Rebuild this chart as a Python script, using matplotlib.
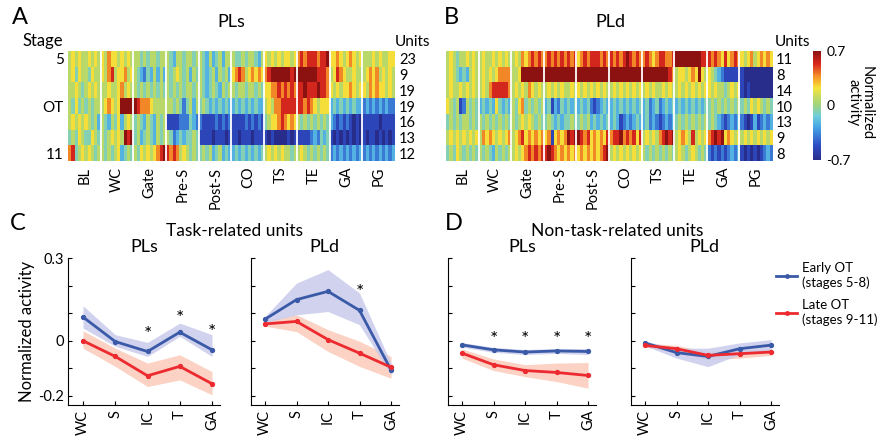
import numpy as np
import matplotlib
matplotlib.use("Agg")
import matplotlib.pyplot as plt
from matplotlib.lines import Line2D
from matplotlib.colors import LinearSegmentedColormap

plt.rcParams['font.family'] = ['Lato', 'DejaVu Sans']

# ---------------- Heatmap data (coded levels 0..9 -> -0.7..0.7) ----------------
epochs = ["BL", "WC", "Gate", "Pre-S", "Post-S", "CO", "TS", "TE", "GA", "PG"]
stage_labels = ["5", "", "", "OT", "", "", "11"]
units_pls = [23, 9, 19, 19, 16, 13, 12]
units_pld = [11, 8, 14, 10, 13, 9, 8]

pls_rows = [
    "5656556565 6576656565 5545455455 5435545545 5435345355 5445455435 6565656656 7878887889 6676567656 5556565566",
    "5646554655 6578566756 5432435353 5456545354 5434535453 6787567676 7899999989 9999998887 5687655655 5676756565",
    "5565456565 5565567565 5454545454 5454545545 5434543545 5455455454 6677878787 8898889887 6565667656 6576766565",
    "5464545455 5676569999 9877765555 5545424535 4543434343 3434343433 5657788888 8878765666 3434343433 2323232322",
    "5656565453 5435463565 4543543545 1111222432 2111121212 1111212121 4566787676 5454545454 3212121010 1111101111",
    "4546544654 5456565989 4534543545 5423434454 1111011101 1101110111 1010000101 1111232434 1010101010 1011010101",
    "7845656545 5454563454 5465656789 8787565454 4545345343 3434343434 5656565545 5654545454 2323232323 2323232323",
]
pld_rows = [
    "5654556565 5655656565 5657678787 7878787878 6787888787 8787898787 7876788778 9999999988 8787686787 6567567676",
    "5654343565 5656567777 5569999999 9999999999 9999999999 9999999999 9999999987 5665676965 6543211111 1000000000",
    "5655656565 5657888887 5656576565 5656565565 6565656565 5656565656 5656556565 5656565656 6565545656 1010000000",
    "6545125454 3434364343 5467454545 3413243434 3434212343 3434343434 3423423434 3434343434 4545454545 4546565454",
    "4545455454 5454545454 5456565454 4543434454 4545343434 3431232343 3423212323 4545454545 4543212323 2101312323",
    "5656565656 5767656567 5678676767 6716767989 9878676768 7889787868 5656578989 5676585656 7898967656 5656565656",
    "4546545454 5454354545 5656787878 8987676767 6767676789 5656565656 5454545454 5654565454 2121212323 1010101232",
]
levels = np.linspace(-0.7, 0.7, 10)

def decode(rows):
    return np.array([[levels[int(c)] for c in r.replace(" ", "")] for r in rows])

# ---------------- Line-plot data ----------------
xcats = ["WC", "S", "IC", "T", "GA"]
# Task-related, PLs
c_pls_early = [0.086, -0.003, -0.039, 0.031, -0.033]
c_pls_early_lo = [0.046, -0.020, -0.057, 0.016, -0.057]
c_pls_early_hi = [0.127, 0.022, -0.006, 0.064, 0.022]
c_pls_late = [0.000, -0.057, -0.127, -0.093, -0.156]
c_pls_late_lo = [-0.027, -0.093, -0.166, -0.142, -0.196]
c_pls_late_hi = [0.036, -0.027, -0.081, -0.051, -0.112]
c_pls_stars = [None, None, 0.022, 0.082, 0.031]
# Task-related, PLd
c_pld_early = [0.078, 0.149, 0.179, 0.110, -0.106]
c_pld_early_lo = [0.066, 0.094, 0.106, 0.058, -0.124]
c_pld_early_hi = [0.088, 0.209, 0.258, 0.173, -0.081]
c_pld_late = [0.061, 0.070, 0.004, -0.045, -0.096]
c_pld_late_lo = [0.053, 0.033, -0.039, -0.093, -0.136]
c_pld_late_hi = [0.075, 0.094, 0.040, -0.002, -0.057]
c_pld_stars = [None, None, None, 0.175, None]
# Non-task-related, PLs
d_pls_early = [-0.015, -0.033, -0.041, -0.037, -0.039]
d_pls_early_lo = [-0.023, -0.042, -0.050, -0.046, -0.050]
d_pls_early_hi = [-0.007, -0.024, -0.032, -0.028, -0.028]
d_pls_late = [-0.045, -0.087, -0.108, -0.115, -0.126]
d_pls_late_lo = [-0.063, -0.108, -0.130, -0.148, -0.172]
d_pls_late_hi = [-0.030, -0.066, -0.087, -0.081, -0.079]
d_pls_stars = [None, 0.004, 0.004, 0.006, 0.004]
# Non-task-related, PLd
d_pld_early = [-0.008, -0.043, -0.057, -0.029, -0.016]
d_pld_early_lo = [-0.018, -0.063, -0.094, -0.050, -0.039]
d_pld_early_hi = [-0.002, -0.027, -0.027, -0.008, 0.004]
d_pld_late = [-0.017, -0.029, -0.053, -0.047, -0.041]
d_pld_late_lo = [-0.023, -0.045, -0.069, -0.063, -0.053]
d_pld_late_hi = [-0.008, -0.017, -0.039, -0.033, -0.029]
d_pld_stars = [None, None, None, None, None]

BLUE = "#3a5aa8"
BLUE_BAND = "#c9cbec"
RED = "#ec2a2f"
RED_BAND = "#fbd2c3"

# muted jet-like colormap resembling the printed figure
cmap = LinearSegmentedColormap.from_list("mjet", [
    (0.00, (40/255, 45/255, 140/255)),
    (0.13, (45/255, 75/255, 195/255)),
    (0.30, (70/255, 165/255, 230/255)),
    (0.40, (110/255, 205/255, 220/255)),
    (0.50, (160/255, 212/255, 130/255)),
    (0.57, (190/255, 218/255, 100/255)),
    (0.66, (247/255, 228/255, 60/255)),
    (0.77, (245/255, 145/255, 40/255)),
    (0.88, (218/255, 40/255, 30/255)),
    (1.00, (140/255, 18/255, 18/255)),
])

W, H = 877, 437
fig = plt.figure(figsize=(W / 100, H / 100), dpi=100)

def ax_px(x0, y0, x1, y1):
    return fig.add_axes([x0 / W, 1 - y1 / H, (x1 - x0) / W, (y1 - y0) / H])

def heat(x0, x1, rows, units, left_labels):
    ax = ax_px(x0, 51, x1, 161)
    data = decode(rows)
    im = ax.imshow(data, cmap=cmap, vmin=-0.7, vmax=0.7, aspect="auto",
                   interpolation="nearest", extent=(0, 100, 7, 0))
    for b in range(10, 100, 10):
        ax.axvline(b, color="white", lw=1.3)
    ax.set_xlim(0, 100)
    ax.set_ylim(7, 0)
    ax.set_xticks(np.arange(5, 100, 10))
    ax.set_xticklabels(epochs, rotation=90, fontsize=10.5)
    ax.tick_params(axis="x", length=0, pad=4)
    ax.set_yticks(np.arange(7) + 0.5)
    if left_labels:
        ax.set_yticklabels(stage_labels, fontsize=11)
    else:
        ax.set_yticklabels([])
    ax.tick_params(axis="y", length=0, pad=3)
    for s in ax.spines.values():
        s.set_visible(False)
    axr = ax.twinx()
    axr.set_ylim(7, 0)
    axr.set_yticks(np.arange(7) + 0.5)
    axr.set_yticklabels([str(u) for u in units], fontsize=10.5)
    axr.tick_params(axis="y", length=0, pad=3)
    for s in axr.spines.values():
        s.set_visible(False)
    return ax, im

axA, im = heat(68, 395, pls_rows, units_pls, True)
axB, _ = heat(446, 772, pld_rows, units_pld, False)

# colorbar
cax = ax_px(813, 51, 821, 160)
cb = fig.colorbar(im, cax=cax, ticks=[-0.7, 0, 0.7])
cb.ax.set_yticklabels(["-0.7", "0", "0.7"], fontsize=10)
cb.ax.tick_params(length=0, pad=4)
cb.outline.set_visible(False)
fig.text(860 / W, 1 - 103 / H, "Normalized\nactivity", rotation=-90, ha="center",
         va="center", fontsize=10.5, linespacing=0.95)

# heatmap headers
fig.text(12 / W, 1 - 18 / H, "A", fontsize=17, va="center", ha="left")
fig.text(444 / W, 1 - 18 / H, "B", fontsize=17, va="center", ha="left")
fig.text(231 / W, 1 - 22 / H, "PLs", fontsize=13, va="center", ha="center")
fig.text(610 / W, 1 - 22 / H, "PLd", fontsize=13, va="center", ha="center")
fig.text(43 / W, 1 - 41 / H, "Stage", fontsize=12, va="center", ha="center")
fig.text(413 / W, 1 - 42 / H, "Units", fontsize=11, va="center", ha="center")
fig.text(793 / W, 1 - 42 / H, "Units", fontsize=11, va="center", ha="center")

# ---------------- Line panels ----------------
XL = (-0.45, 4.25)
YL = (-0.233, 0.3)

def line_panel(x_wc, x_ga, series, stars, title, ylabels):
    u = (x_ga - x_wc) / 4
    x0 = x_wc + XL[0] * u
    x1 = x_wc + XL[1] * u
    ax = ax_px(x0, 258, x1, 405)
    xs = np.arange(5)
    (e, elo, ehi, l, llo, lhi) = series
    ax.fill_between(xs, llo, lhi, color=RED_BAND, lw=0, zorder=1)
    ax.fill_between(xs, elo, ehi, color=BLUE_BAND, lw=0, zorder=1, alpha=0.85)
    ax.plot(xs, e, color=BLUE, lw=2, marker="o", ms=2.8, zorder=3)
    ax.plot(xs, l, color=RED, lw=2, marker="o", ms=2.8, zorder=3)
    for xi, sv in zip(xs, stars):
        if sv is not None:
            ax.text(xi, sv, "*", ha="center", va="center", fontsize=14)
    ax.set_xlim(*XL)
    ax.set_ylim(*YL)
    ax.set_xticks(xs)
    ax.set_xticklabels(xcats, rotation=90, fontsize=10.5)
    ax.set_yticks([-0.2, -0.1, 0, 0.1, 0.2, 0.3])
    if ylabels:
        ax.set_yticklabels(["-0.2", "", "0", "", "", "0.3"], fontsize=10.5)
    else:
        ax.set_yticklabels([])
    ax.tick_params(direction="in", length=3, width=0.8)
    for s in ["top", "right"]:
        ax.spines[s].set_visible(False)
    ax.spines["left"].set_bounds(YL[0], 0.3)
    ax.patch.set_alpha(0)
    ax.set_title(title, fontsize=13, pad=4)
    return ax

axC1 = line_panel(83, 212, (c_pls_early, c_pls_early_lo, c_pls_early_hi,
                            c_pls_late, c_pls_late_lo, c_pls_late_hi),
                  c_pls_stars, "PLs", True)
axC1.set_ylabel("Normalized activity", fontsize=12, labelpad=2)
line_panel(265, 391, (c_pld_early, c_pld_early_lo, c_pld_early_hi,
                      c_pld_late, c_pld_late_lo, c_pld_late_hi),
           c_pld_stars, "PLd", False)
line_panel(462, 588, (d_pls_early, d_pls_early_lo, d_pls_early_hi,
                      d_pls_late, d_pls_late_lo, d_pls_late_hi),
           d_pls_stars, "PLs", False)
line_panel(645, 771, (d_pld_early, d_pld_early_lo, d_pld_early_hi,
                      d_pld_late, d_pld_late_lo, d_pld_late_hi),
           d_pld_stars, "PLd", False)

fig.text(10 / W, 1 - 223 / H, "C", fontsize=17, va="center", ha="left")
fig.text(445 / W, 1 - 223 / H, "D", fontsize=17, va="center", ha="left")
fig.text(235 / W, 1 - 231 / H, "Task-related units", fontsize=12.5, va="center", ha="center")
fig.text(617 / W, 1 - 231 / H, "Non-task-related units", fontsize=12.5, va="center", ha="center")

handles = [Line2D([], [], color=BLUE, lw=2, marker="o", ms=2.5),
           Line2D([], [], color=RED, lw=2, marker="o", ms=2.5)]
fig.legend(handles, ["Early OT\n(stages 5-8)", "Late OT\n(stages 9-11)"],
           loc="upper left", bbox_to_anchor=(776 / W, 1 - 262 / H), frameon=False,
           fontsize=9.5, handlelength=1.6, handletextpad=0.4, labelspacing=0.8,
           borderaxespad=0, borderpad=0)

fig.savefig("out.png", dpi=100)
